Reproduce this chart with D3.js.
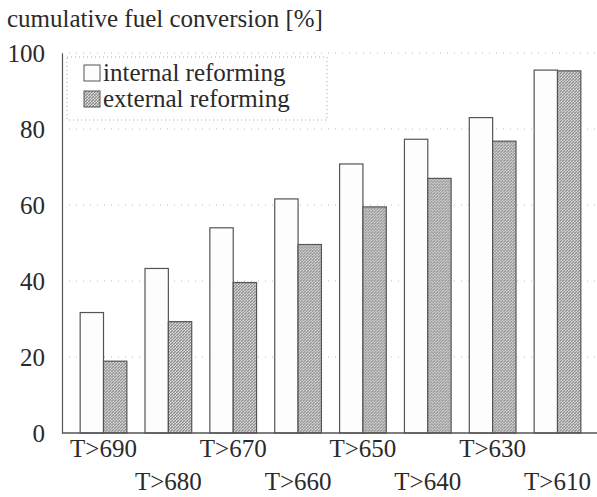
<!DOCTYPE html>
<html>
<head>
<meta charset="utf-8">
<script src="https://cdn.jsdelivr.net/npm/d3@7"></script>
<style>
  html, body { margin: 0; padding: 0; background: #fff; }
  svg { display: block; }
  svg text { font-family: "Liberation Serif", "Times New Roman", Times, serif; fill: #2a2a2a; }
</style>
</head>
<body>
<div id="chart"></div>
<script>
// Temperature thresholds (categories along x)
const categories = ["T>690", "T>680", "T>670", "T>660", "T>650", "T>640", "T>630", "T>610"];
// Cumulative fuel conversion [%] for each reforming mode
const internalReforming = [31.7, 43.3, 54.0, 61.6, 70.8, 77.3, 83.0, 95.5];
const externalReforming = [18.9, 29.3, 39.6, 49.6, 59.5, 67.0, 76.8, 95.3];
const seriesNames = ["internal reforming", "external reforming"];
const yTicks = [0, 20, 40, 60, 80, 100];

const W = 597, H = 497;
const FONT = 25;
const svg = d3.select("#chart").append("svg").attr("width", W).attr("height", H);

// stippled grey texture for the external-reforming bars
const defs = svg.append("defs");
const pat = defs.append("pattern")
  .attr("id", "stipple").attr("patternUnits", "userSpaceOnUse")
  .attr("width", 3).attr("height", 3);
pat.append("rect").attr("width", 3).attr("height", 3).attr("fill", "#bababa");
[[0,0],[2,1],[1,2]].forEach(([px, py]) =>
  pat.append("rect").attr("x", px).attr("y", py).attr("width", 1).attr("height", 1).attr("fill", "#8a8a8a"));
[[1,0],[0,2]].forEach(([px, py]) =>
  pat.append("rect").attr("x", px).attr("y", py).attr("width", 1).attr("height", 1).attr("fill", "#e0e0e0"));

const x0 = 62, xEnd = 599;
const x = d3.scaleBand().domain(categories).range([x0, xEnd]).paddingInner(0.28).paddingOuter(0.28);
const xs = d3.scaleBand().domain(seriesNames).range([0, x.bandwidth()]);
const y = d3.scaleLinear().domain([0, 100]).range([433, 53]);

// faint dotted grid
svg.append("g").selectAll("line").data(yTicks.slice(1)).join("line")
  .attr("x1", x0).attr("x2", W)
  .attr("y1", d => y(d)).attr("y2", d => y(d))
  .attr("stroke", "#bbb").attr("stroke-width", 1)
  .attr("stroke-dasharray", "1,6");

// y axis (labels only, plus the vertical line)
const yAxis = d3.axisLeft(y).tickValues(yTicks).tickSize(0).tickPadding(17);
const gy = svg.append("g").attr("transform", `translate(${x0},0)`).call(yAxis);
gy.attr("font-family", null).attr("font-size", null);
gy.select(".domain").attr("stroke", "#555").attr("stroke-width", 1.2);
gy.selectAll("text").attr("font-size", FONT).attr("fill", "#2a2a2a");

// bars
const groups = svg.append("g").selectAll("g").data(categories).join("g")
  .attr("transform", d => `translate(${x(d)},0)`);
groups.append("rect")
  .attr("x", xs(seriesNames[0]))
  .attr("y", (d, i) => y(internalReforming[i]))
  .attr("width", xs.bandwidth())
  .attr("height", (d, i) => y(0) - y(internalReforming[i]))
  .attr("fill", "#fdfdfd").attr("stroke", "#555").attr("stroke-width", 1.2);
groups.append("rect")
  .attr("x", xs(seriesNames[1]))
  .attr("y", (d, i) => y(externalReforming[i]))
  .attr("width", xs.bandwidth())
  .attr("height", (d, i) => y(0) - y(externalReforming[i]))
  .attr("fill", "url(#stipple)").attr("stroke", "#555").attr("stroke-width", 1.2);

// baseline
svg.append("line").attr("x1", x0).attr("x2", W).attr("y1", y(0)).attr("y2", y(0))
  .attr("stroke", "#555").attr("stroke-width", 1.5);

// staggered x labels
const xAxis = d3.axisBottom(x).tickSize(0).tickPadding(0);
const gx = svg.append("g").attr("transform", `translate(0,${y(0)})`).call(xAxis);
gx.attr("font-family", null).attr("font-size", null);
gx.select(".domain").remove();
gx.selectAll("text")
  .attr("font-size", FONT).attr("fill", "#2a2a2a")
  .attr("dy", (d, i) => i % 2 === 0 ? 24 : 57);

// title
svg.append("text").attr("x", 7).attr("y", 27).attr("font-size", FONT).text("cumulative fuel conversion [%]");

// legend
const lg = svg.append("g");
lg.append("rect").attr("x", 67).attr("y", 57).attr("width", 260).attr("height", 63)
  .attr("fill", "none").attr("stroke", "#aaa").attr("stroke-dasharray", "1,3");
const fills = ["#fdfdfd", "url(#stipple)"];
seriesNames.forEach((name, i) => {
  const yy = 65 + i * 26;
  lg.append("rect").attr("x", 84).attr("y", yy).attr("width", 16).attr("height", 16)
    .attr("fill", fills[i]).attr("stroke", "#555").attr("stroke-width", 1);
  lg.append("text").attr("x", 103).attr("y", yy + 16).attr("font-size", FONT).text(name);
});
</script>
</body>
</html>
